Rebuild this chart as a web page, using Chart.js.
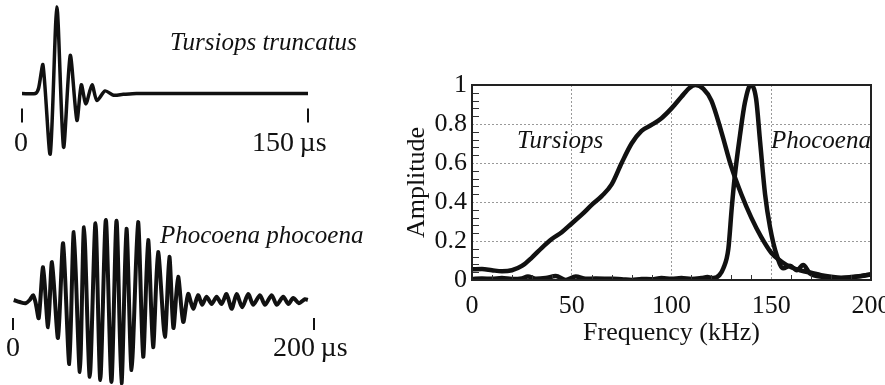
<!DOCTYPE html>
<html>
<head>
<meta charset="utf-8">
<script src="https://cdn.jsdelivr.net/npm/chart.js@4.4.1/dist/chart.umd.min.js"></script>
<style>
  html, body { margin: 0; padding: 0; background: #fff; }
  body { width: 885px; height: 385px; position: relative; overflow: hidden; font-family: 'Liberation Serif', 'Times New Roman', serif; color: #111; }
  canvas { position: absolute; }
  .lbl { position: absolute; font-size: 28px; line-height: 1; white-space: nowrap; }
  .it { font-style: italic; font-size: 25px; }
</style>
</head>
<body>
<canvas id="tursWave" width="380" height="190" style="left:0;top:0"></canvas>
<canvas id="phocWave" width="380" height="195" style="left:0;top:190px"></canvas>
<canvas id="spectrum" width="495" height="385" style="left:390px;top:0"></canvas>

<div class="lbl it" style="left:170px;top:29px">Tursiops truncatus</div>
<div class="lbl" style="left:14px;top:128px">0</div>
<div class="lbl" style="left:252px;top:128px">150&#8201;µs</div>

<div class="lbl it" style="left:160px;top:222px">Phocoena phocoena</div>
<div class="lbl" style="left:6px;top:333px">0</div>
<div class="lbl" style="left:273px;top:333px">200&#8201;µs</div>

<div class="lbl it" style="left:517px;top:127px">Tursiops</div>
<div class="lbl it" style="left:771px;top:127px">Phocoena</div>

<script>
// waveforms (time in µs, relative pressure)
const tursTime = [0, 7, 8.7, 11, 14.8, 18.3, 21.8, 25.3, 28.8, 31.1, 33.5, 36.7, 39.3, 43.6, 48, 53.1, 60, 150];
const tursPressure = [0, 0, 0.06, 0.33, -0.7, 1.0, -0.62, 0.44, -0.31, 0.1, -0.12, 0.1, -0.08, 0.03, -0.02, -0.01, 0, 0];

const phocTime = [0.5, 4.5, 8.4, 11.1, 13.4, 15.1, 17.1, 20.0, 23.3, 25.9, 29.9, 33.3, 37.4, 40.4, 44.4, 47.2, 51.0, 54.8, 58.0, 61.7,
  65.4, 68.8, 72.1, 75.4, 78.8, 83.1, 86.5, 89.8, 93.1, 96.4, 100.9, 103.9, 106.6, 109.7, 113.1, 116.4, 119.7, 123.0, 125.7, 128.6,
  132.0, 135.3, 138.6, 141.9, 145.3, 148.6, 152.3, 156.3, 159.6, 164.1, 167.4, 171.9, 175.2, 179.6, 182.9, 186.2, 190.0, 194.0, 195.9];
const phocPressure = [0, -0.025, -0.04, 0, 0.06, -0.04, -0.225, 0.41, -0.34, 0.475, -0.475, 0.71, -0.8, 0.85, -0.9, 0.91, -0.96, 0.96, -1.0, 1.0,
  -1.025, 0.99, -1.04, 0.89, -0.875, 0.975, -0.71, 0.75, -0.59, 0.6, -0.46, 0.54, -0.35, 0.29, -0.275, 0.075, -0.11, 0.06, -0.06, 0.04,
  -0.05, 0.04, -0.05, 0.075, -0.11, 0.075, -0.09, 0.075, -0.06, 0.06, -0.06, 0.06, -0.06, 0.04, -0.05, 0.025, -0.04, 0.01, 0];

const tursTimeTicks = [0, 150];
const phocTimeTicks = [0, 200];

// spectra (kHz, normalised amplitude)
const tursFreq = [0, 5, 10, 15, 20, 25, 30, 35, 40, 45, 50, 55, 60, 65, 70, 75, 80, 85, 90, 95, 100, 105, 109, 112, 116, 120, 125,
  130, 135, 140, 145, 150, 155, 160, 165, 170, 175, 180, 185, 190, 195, 200];
const tursAmp = [0.055, 0.056, 0.05, 0.045, 0.05, 0.072, 0.115, 0.165, 0.21, 0.245, 0.29, 0.335, 0.385, 0.43, 0.49, 0.6, 0.7, 0.765, 0.795, 0.83,
  0.88, 0.94, 0.985, 1.0, 0.98, 0.92, 0.76, 0.58, 0.44, 0.32, 0.22, 0.14, 0.095, 0.065, 0.048, 0.037, 0.025, 0.017, 0.012, 0.015, 0.02, 0.028];

const phocFreq = [0, 5, 10, 15, 20, 25, 28, 32, 37, 42, 47, 52, 57, 62, 70, 75, 80, 85, 90, 95, 100, 105, 110, 115, 118, 121, 124, 126,
  128.5, 130.2, 131.8, 134.3, 136.8, 139.7, 142.4, 144.4, 146.9, 149.4, 152.7, 156, 159.4, 162.8, 166, 169.4, 176, 185, 192, 200];
const phocAmp = [0.005, 0.008, 0.006, 0.01, 0.005, 0.008, 0.018, 0.006, 0.01, 0.02, 0.0, 0.018, 0.006, 0.008, 0.006, 0.004, 0.0, 0.005, 0.004, 0.01,
  0.006, 0.01, 0.005, 0.01, 0.015, 0.01, 0.025, 0.06, 0.16, 0.37, 0.54, 0.74, 0.91, 1.0, 0.93, 0.71, 0.44, 0.27, 0.128, 0.06,
  0.073, 0.05, 0.077, 0.034, 0.015, 0.005, 0.015, 0.03];

const ampMinorTicks = [0.04, 0.08, 0.12, 0.16, 0.24, 0.28, 0.32, 0.36, 0.44, 0.48, 0.52, 0.56, 0.64, 0.68, 0.72, 0.76, 0.84, 0.88, 0.92, 0.96];
const freqMinorTicks = [10, 20, 30, 40, 60, 70, 80, 90, 110, 120, 130, 140, 160, 170, 180, 190];

const serif = "'Liberation Serif', 'Times New Roman', serif";
const ink = '#111';

const toPoints = (xs, ys) => xs.map((x, i) => ({ x: x, y: ys[i] }));

// little vertical marks under the waveform at 0 and the end time
const timeMarks = {
  id: 'timeMarks',
  afterDraw(chart, args, opts) {
    const { ctx, scales } = chart;
    const base = scales.y.getPixelForValue(0);
    ctx.save();
    ctx.strokeStyle = ink;
    ctx.lineWidth = 2;
    opts.values.forEach(v => {
      const px = scales.x.getPixelForValue(v);
      ctx.beginPath();
      ctx.moveTo(px, base + opts.from);
      ctx.lineTo(px, base + opts.to);
      ctx.stroke();
    });
    ctx.restore();
  }
};

function waveform(id, times, values, tMax, padding, marks, width) {
  return new Chart(document.getElementById(id), {
    type: 'line',
    data: {
      datasets: [{
        data: toPoints(times, values),
        borderColor: ink,
        borderWidth: width,
        pointRadius: 0,
        tension: 0.25,
        clip: false,
      }],
    },
    options: {
      responsive: false,
      animation: false,
      layout: { padding: padding },
      plugins: { legend: { display: false }, tooltip: { enabled: false }, timeMarks: marks },
      scales: {
        x: { type: 'linear', min: 0, max: tMax, display: false },
        y: { min: -1, max: 1, display: false },
      },
    },
    plugins: [timeMarks],
  });
}

waveform('tursWave', tursTime, tursPressure, 150, { left: 22, right: 72, top: 7, bottom: 10 }, { values: tursTimeTicks, from: 15, to: 29 }, 3.5);
waveform('phocWave', phocTime, phocPressure, 200, { left: 13, right: 66, top: 30, bottom: 5 }, { values: phocTimeTicks, from: 18, to: 30 }, 4);

// frame and inner minor ticks of the spectrum plot
const frame = {
  id: 'frame',
  afterDraw(chart, args, opts) {
    const { ctx, chartArea: { left, top, right, bottom }, scales: { x, y } } = chart;
    ctx.save();
    ctx.strokeStyle = '#333';
    ctx.lineWidth = 1;
    opts.yMinor.forEach(v => {
      const py = Math.round(y.getPixelForValue(v)) + 0.5;
      ctx.beginPath(); ctx.moveTo(left, py); ctx.lineTo(left + 7, py); ctx.stroke();
    });
    opts.xMinor.forEach(v => {
      const px = Math.round(x.getPixelForValue(v)) + 0.5;
      ctx.beginPath(); ctx.moveTo(px, bottom); ctx.lineTo(px, bottom - 5); ctx.stroke();
    });
    ctx.lineWidth = 2;
    ctx.strokeStyle = '#222';
    ctx.strokeRect(left, top, right - left, bottom - top);
    ctx.restore();
  }
};

// keep the plot box where it is even if the end labels run over the edge
const noLabelPadding = s => { s.paddingLeft = 0; s.paddingRight = 0; s.paddingTop = 0; s.paddingBottom = 0; };

new Chart(document.getElementById('spectrum'), {
  type: 'line',
  data: {
    datasets: [
      { label: 'Tursiops', data: toPoints(tursFreq, tursAmp), borderColor: ink, borderWidth: 4.5, pointRadius: 0, cubicInterpolationMode: 'monotone' },
      { label: 'Phocoena', data: toPoints(phocFreq, phocAmp), borderColor: ink, borderWidth: 4.5, pointRadius: 0, cubicInterpolationMode: 'monotone' },
    ],
  },
  options: {
    responsive: false,
    animation: false,
    layout: { padding: { top: 85, right: 14, bottom: 0, left: 0 } },
    plugins: {
      legend: { display: false },
      tooltip: { enabled: false },
      frame: { yMinor: ampMinorTicks, xMinor: freqMinorTicks },
    },
    scales: {
      x: {
        type: 'linear', min: 0, max: 200,
        afterFit: s => { s.height = 105; noLabelPadding(s); },
        ticks: { stepSize: 50, color: ink, font: { family: serif, size: 26 }, padding: 11, maxRotation: 0 },
        grid: { color: '#999', drawTicks: false },
        border: { display: false, dash: [2, 2] },
        title: { display: true, text: 'Frequency (kHz)', color: ink, font: { family: serif, size: 26 }, padding: { top: 0, bottom: 36 } },
      },
      y: {
        min: 0, max: 1,
        afterFit: s => { s.width = 82; noLabelPadding(s); },
        ticks: { stepSize: 0.2, color: ink, font: { family: serif, size: 26 }, padding: 5, callback: v => String(+v.toFixed(1)) },
        grid: { color: '#999', drawTicks: false },
        border: { display: false, dash: [2, 2] },
        title: { display: true, text: 'Amplitude', color: ink, font: { family: serif, size: 26 }, padding: { top: 12, bottom: 0 } },
      },
    },
  },
  plugins: [frame],
});
</script>
</body>
</html>
